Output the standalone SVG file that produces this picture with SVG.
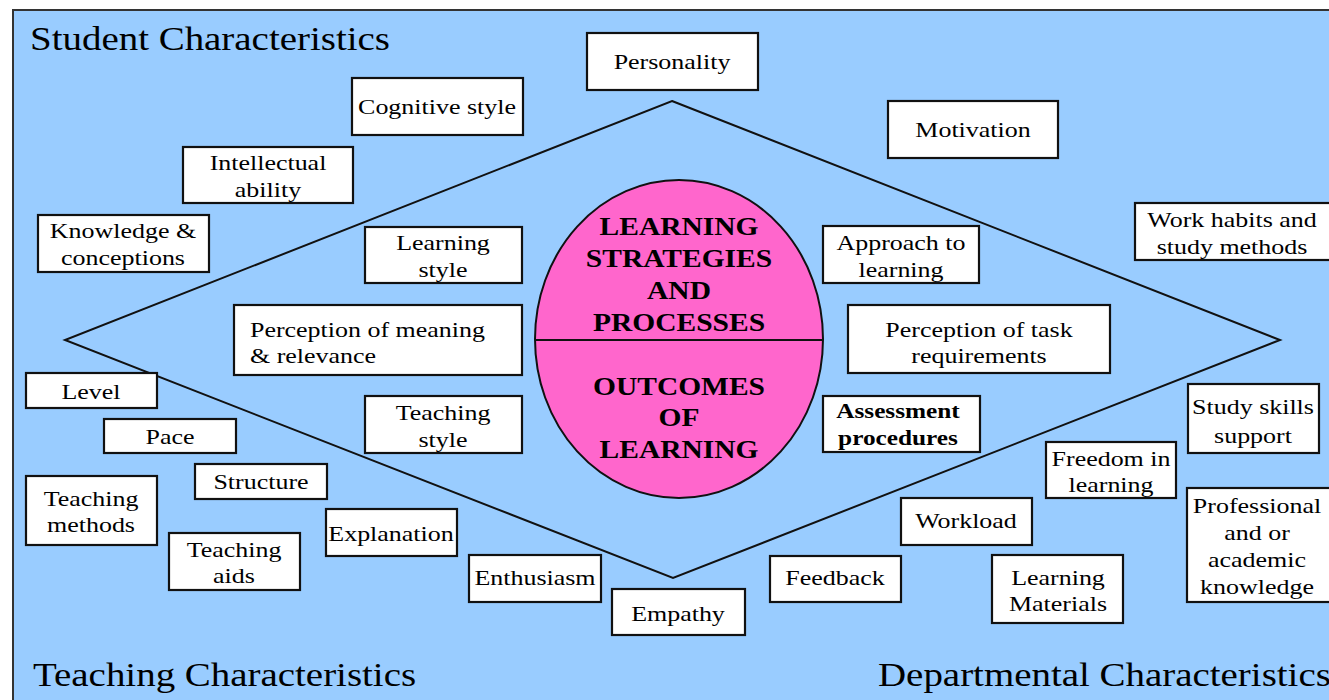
<svg xmlns="http://www.w3.org/2000/svg" width="1329" height="700" viewBox="0 0 1329 700" font-family="'Liberation Serif', 'DejaVu Serif', serif">
<style>
.box{fill:#ffffff;stroke:#111111;stroke-width:2.2}
text{font-family:'Liberation Serif','DejaVu Serif',serif}
.t{font-size:22px;fill:#000;text-anchor:middle}
.tb{font-size:22px;font-weight:bold;fill:#000;text-anchor:middle}
.title{font-size:33px;fill:#000}
.core{font-size:25px;font-weight:bold;fill:#000;text-anchor:middle}
.line{fill:none;stroke:#111111;stroke-width:2}
</style>
<rect x="0" y="0" width="1329" height="700" fill="#ffffff"/>
<rect x="13" y="10" width="1330" height="700" fill="#99ccff" stroke="#333333" stroke-width="2"/>

<g id="titles">
<text class="title" transform="translate(30 0) scale(1.18 1)" y="50">Student Characteristics</text>
<text class="title" transform="translate(33 0) scale(1.18 1)" y="686">Teaching Characteristics</text>
<text class="title" transform="translate(878 0) scale(1.18 1)" y="686">Departmental Characteristics</text>
</g>

<g id="connectors">
<polygon class="line" points="672,101 1280,340 673,578 65,340"/>
</g>

<g id="core">
<ellipse cx="679" cy="339" rx="144" ry="159" fill="#ff66cc" stroke="#111111" stroke-width="2"/>
<line x1="535" y1="340" x2="823" y2="340" stroke="#111111" stroke-width="2"/>
<text class="core" transform="translate(679 0) scale(1.18 1)"><tspan x="0" y="235">LEARNING</tspan><tspan x="0" y="267">STRATEGIES</tspan><tspan x="0" y="299">AND</tspan><tspan x="0" y="331">PROCESSES</tspan></text>
<text class="core" transform="translate(679 0) scale(1.18 1)"><tspan x="0" y="395">OUTCOMES</tspan><tspan x="0" y="426">OF</tspan><tspan x="0" y="458">LEARNING</tspan></text>
</g>

<g id="personality"><rect class="box" x="587" y="33" width="171" height="57"/><text class="t" transform="translate(672 0) scale(1.18 1)" y="69">Personality</text></g>
<g id="cognitive-style"><rect class="box" x="352" y="78" width="171" height="57"/><text class="t" transform="translate(437 0) scale(1.18 1)" y="114">Cognitive style</text></g>
<g id="motivation"><rect class="box" x="888" y="101" width="170" height="57"/><text class="t" transform="translate(973 0) scale(1.18 1)" y="137">Motivation</text></g>
<g id="intellectual-ability"><rect class="box" x="183" y="147" width="170" height="56"/><text class="t" transform="translate(268 0) scale(1.18 1)"><tspan x="0" y="170">Intellectual</tspan><tspan x="0" y="197">ability</tspan></text></g>
<g id="knowledge"><rect class="box" x="38" y="215" width="171" height="57"/><text class="t" transform="translate(123 0) scale(1.18 1)"><tspan x="0" y="238">Knowledge &amp;</tspan><tspan x="0" y="265">conceptions</tspan></text></g>
<g id="learning-style"><rect class="box" x="365" y="227" width="157" height="56"/><text class="t" transform="translate(443 0) scale(1.18 1)"><tspan x="0" y="250">Learning</tspan><tspan x="0" y="277">style</tspan></text></g>
<g id="approach"><rect class="box" x="823" y="226" width="156" height="57"/><text class="t" transform="translate(901 0) scale(1.18 1)"><tspan x="0" y="250">Approach to</tspan><tspan x="0" y="277">learning</tspan></text></g>
<g id="work-habits"><rect class="box" x="1135" y="203" width="210" height="57"/><text class="t" transform="translate(1232 0) scale(1.18 1)"><tspan x="0" y="227">Work habits and</tspan><tspan x="0" y="254">study methods</tspan></text></g>
<g id="perception-meaning"><rect class="box" x="234" y="305" width="288" height="70"/><text class="t" style="text-anchor:start" transform="translate(250 0) scale(1.18 1)"><tspan x="0" y="337">Perception of meaning</tspan><tspan x="0" y="363">&amp; relevance</tspan></text></g>
<g id="perception-task"><rect class="box" x="848" y="305" width="262" height="68"/><text class="t" transform="translate(979 0) scale(1.18 1)"><tspan x="0" y="337">Perception of task</tspan><tspan x="0" y="363">requirements</tspan></text></g>
<g id="level"><rect class="box" x="26" y="373" width="131" height="35"/><text class="t" transform="translate(91 0) scale(1.18 1)" y="399">Level</text></g>
<g id="pace"><rect class="box" x="104" y="419" width="132" height="34"/><text class="t" transform="translate(170 0) scale(1.18 1)" y="444">Pace</text></g>
<g id="teaching-style"><rect class="box" x="365" y="396" width="157" height="57"/><text class="t" transform="translate(443 0) scale(1.18 1)"><tspan x="0" y="420">Teaching</tspan><tspan x="0" y="447">style</tspan></text></g>
<g id="assessment"><rect class="box" x="823" y="396" width="157" height="56"/><text class="tb" transform="translate(898 0) scale(1.15 1)"><tspan x="0" y="418">Assessment</tspan><tspan x="0" y="445">procedures</tspan></text></g>
<g id="study-skills"><rect class="box" x="1188" y="384" width="131" height="69"/><text class="t" transform="translate(1253 0) scale(1.18 1)"><tspan x="0" y="414">Study skills</tspan><tspan x="0" y="443">support</tspan></text></g>
<g id="freedom"><rect class="box" x="1046" y="442" width="130" height="56"/><text class="t" transform="translate(1111 0) scale(1.18 1)"><tspan x="0" y="466">Freedom in</tspan><tspan x="0" y="492">learning</tspan></text></g>
<g id="structure"><rect class="box" x="195" y="464" width="132" height="35"/><text class="t" transform="translate(261 0) scale(1.18 1)" y="489">Structure</text></g>
<g id="teaching-methods"><rect class="box" x="26" y="476" width="131" height="69"/><text class="t" transform="translate(91 0) scale(1.18 1)"><tspan x="0" y="506">Teaching</tspan><tspan x="0" y="532">methods</tspan></text></g>
<g id="workload"><rect class="box" x="901" y="498" width="131" height="47"/><text class="t" transform="translate(966 0) scale(1.18 1)" y="528">Workload</text></g>
<g id="professional"><rect class="box" x="1187" y="488" width="160" height="114"/><text class="t" transform="translate(1257 0) scale(1.18 1)"><tspan x="0" y="513">Professional</tspan><tspan x="0" y="540">and or</tspan><tspan x="0" y="567">academic</tspan><tspan x="0" y="594">knowledge</tspan></text></g>
<g id="explanation"><rect class="box" x="326" y="509" width="131" height="47"/><text class="t" transform="translate(391 0) scale(1.18 1)" y="541">Explanation</text></g>
<g id="teaching-aids"><rect class="box" x="169" y="533" width="131" height="57"/><text class="t" transform="translate(234 0) scale(1.18 1)"><tspan x="0" y="557">Teaching</tspan><tspan x="0" y="583">aids</tspan></text></g>
<g id="enthusiasm"><rect class="box" x="469" y="555" width="132" height="47"/><text class="t" transform="translate(535 0) scale(1.18 1)" y="585">Enthusiasm</text></g>
<g id="feedback"><rect class="box" x="770" y="556" width="131" height="46"/><text class="t" transform="translate(835 0) scale(1.18 1)" y="585">Feedback</text></g>
<g id="learning-materials"><rect class="box" x="992" y="555" width="131" height="68"/><text class="t" transform="translate(1058 0) scale(1.18 1)"><tspan x="0" y="585">Learning</tspan><tspan x="0" y="611">Materials</tspan></text></g>
<g id="empathy"><rect class="box" x="612" y="589" width="133" height="46"/><text class="t" transform="translate(678 0) scale(1.18 1)" y="621">Empathy</text></g>
</svg>
